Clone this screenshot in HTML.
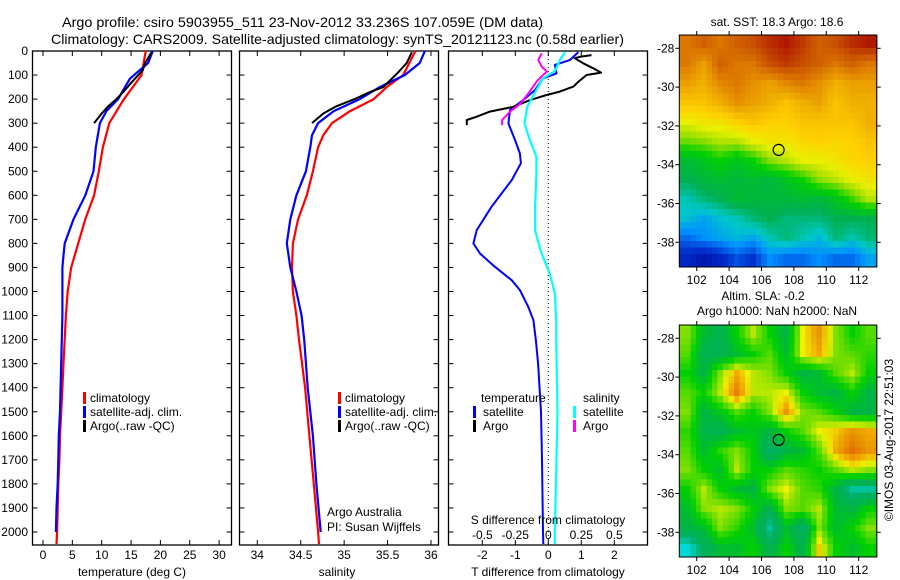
<!DOCTYPE html>
<html><head><meta charset="utf-8"><style>
html,body{margin:0;padding:0;background:#fff;width:900px;height:580px;overflow:hidden}
svg{display:block;font-family:"Liberation Sans",sans-serif}
text{font-size:12px;fill:#000}
</style></head><body>
<svg id="fig" width="900" height="580" viewBox="0 0 900 580" xmlns="http://www.w3.org/2000/svg">
<text x="62" y="27" textLength="481" lengthAdjust="spacingAndGlyphs" style="font-size:14px">Argo profile: csiro 5903955_511 23-Nov-2012 33.236S 107.059E (DM data)</text>
<text x="51" y="44" textLength="573" lengthAdjust="spacingAndGlyphs" style="font-size:14px">Climatology: CARS2009. Satellite-adjusted climatology: synTS_20121123.nc (0.58d earlier)</text>
<g id="layer"></g>
</svg>
<script>
// ---------- data ----------
const depthTicks = [0,100,200,300,400,500,600,700,800,900,1000,1100,1200,1300,1400,1500,1600,1700,1800,1900,2000];
const tempTicks = [0,5,10,15,20,25,30];
const salTicks = [34,34.5,35,35.5,36];
const tdiffTicks = [-2,-1,0,1,2];
const sdiffTicks = [-0.5,-0.25,0,0.25,0.5];
const sdiffLabels = ["-0.5","-0.25","0","0.25","0.5"];

const tClimDepth = [0,100,200,300,400,500,600,700,800,900,1000,1100,1200,1300,1400,1500,1600,1700,1800,1900,2000,2050];
const tClimVal = [17.5,16.8,13.8,11.3,10.2,9.5,8.7,7.2,6.0,4.8,4.2,3.9,3.7,3.5,3.3,3.1,2.9,2.8,2.6,2.5,2.4,2.3];
const tSatDepth = [0,50,115,200,250,300,400,500,600,700,800,850,900,1000,1100,1200,1300,1400,1500,1600,1700,1800,1900,2000];
const tSatVal = [18.7,17.9,14.8,12.8,10.8,9.7,9.0,8.6,7.2,5.2,3.7,3.5,3.3,3.3,3.3,3.2,3.1,3.0,2.9,2.7,2.6,2.5,2.3,2.2];
const tArgoDepth = [5,50,80,130,170,200,230,260,300];
const tArgoVal = [18.5,17.4,17.0,15.1,13.7,12.5,11.1,10.0,8.7];

const sClimDepth = [0,100,150,200,250,300,350,400,500,600,700,800,900,1000,1100,1200,1400,1600,1800,2000,2050];
const sClimVal = [35.82,35.68,35.49,35.34,35.07,34.86,34.76,34.70,34.64,34.57,34.47,34.41,34.40,34.41,34.45,34.48,34.55,34.60,34.65,34.70,34.71];
const sSatDepth = [0,50,100,150,200,250,300,350,400,500,600,700,800,900,1000,1100,1200,1400,1600,1800,2000];
const sSatVal = [35.93,35.87,35.70,35.41,35.18,34.88,34.70,34.63,34.61,34.56,34.45,34.38,34.34,34.38,34.45,34.51,34.54,34.58,34.64,34.68,34.73];
const sArgoDepth = [5,50,90,150,170,200,230,260,300];
const sArgoVal = [35.78,35.72,35.62,35.45,35.30,35.12,34.91,34.76,34.63];

const dTSatDepth = [5,37,58,93,114,162,204,245,301,370,426,467,537,648,745,800,842,897,953,994,1063,1119,1200,1300,1500,1700,2000,2050];
const dTSatVal = [0.91,0.66,0.2,0.25,-0.16,-0.4,-0.76,-1.16,-1.21,-1.01,-0.86,-0.83,-1.11,-1.72,-2.17,-2.27,-2.07,-1.62,-1.11,-0.86,-0.61,-0.45,-0.38,-0.31,-0.22,-0.19,-0.16,-0.15];
const dTArgoDepth = [17,24,30,51,72,90,100,128,148,169,183,204,232,252,273,287,308];
const dTArgoVal = [1.31,0.96,0.8,1.06,1.36,1.6,1.16,0.91,0.76,0.35,-0.05,-0.55,-1.06,-1.77,-2.17,-2.47,-2.47];
const dSSatDepth = [5,37,83,114,162,232,301,370,440,509,648,745,828,925,1008,1119,1200,1500,2000,2050];
const dSSatVal = [0.127,0.089,0.05,-0.04,-0.09,-0.16,-0.18,-0.14,-0.09,-0.09,-0.1,-0.1,-0.06,0.01,0.05,0.06,0.06,0.07,0.05,0.05];
const dSArgoDepth = [10,37,65,86,100,128,176,218,252,287,308];
const dSArgoVal = [-0.05,-0.076,-0.05,-0.01,-0.04,-0.09,-0.15,-0.21,-0.29,-0.35,-0.35];

const mapLons = [102,104,106,108,110,112];
const mapLats = [-28,-30,-32,-34,-36,-38];
const sstGrid = [
[20.5,20.8,20.5,20.8,21,21.3,21.5,21.2,20.8,21,21.3,21.5],
[20.5,20,20.8,20.5,20.5,21,21.2,21,20.8,20.5,20.8,20.5],
[20,19.8,20.3,20.5,20.2,20,20.3,20.5,20.2,19.8,20,20],
[19.5,19.5,19.8,20.2,20,19.8,19.5,19.8,20,19.5,19.8,19.8],
[18.8,19,19,19.3,19.5,19.3,19.3,19.5,19.5,19.5,19.5,19.8],
[18.2,18.3,18.5,18.5,18.8,19,19,19.2,19.3,19.2,19.3,19.5],
[17.3,17.5,17.8,17.5,17.8,18.3,18.5,18.8,18.8,19,19.2,19.3],
[17,17.2,17.3,17.2,17.3,17.2,17.5,17.8,18.3,18.5,18.8,19],
[16.5,16.8,17,17.3,17.2,17.2,17.2,17.3,17.2,17.5,18,18.5],
[16.3,16,16.3,16.5,16.8,17,16.8,16.8,16.8,17,17,17],
[15.5,15.8,16,16.2,16,16.5,16.8,16.5,16.2,16.8,16.5,16.8],
[14.8,14.5,14.8,15.3,15,15.8,15.5,15.5,15.8,15.5,15.5,16]];
const slaGrid = [
[0.3,-0.2,-0.4,0,0.4,0,-0.3,0.5,0.8,0.3,0,0.2],
[0.2,-0.4,-0.4,-0.2,0,0.2,-0.2,0.5,0.7,0.3,0.2,0.1],
[0,-0.3,0.3,0.7,0.4,0.3,0,-0.3,-0.2,0.2,0.4,0],
[0.2,0,0.4,0.9,0.4,0.4,0.5,0,-0.2,-0.3,0,-0.3],
[0.3,-0.3,-0.1,0.2,0,0.3,0.8,0.3,0.2,0,-0.3,-0.3],
[0.1,-0.3,-0.4,-0.2,-0.1,-0.3,0,0.2,0.5,0.6,0.8,0.7],
[0.2,-0.2,0.1,0.3,0,-0.6,-0.3,-0.2,0.2,0.7,1,0.8],
[0.3,0,-0.2,0.4,0,0,0.2,0.1,0,0.2,0.4,0.3],
[0,0.4,0,-0.2,-0.3,0.3,0.5,0.2,0.1,-0.3,-0.8,-0.8],
[-0.2,0.3,0.4,0.3,0,-0.4,0.3,0.2,0.4,-0.2,-0.3,0],
[-0.3,-0.2,0.3,0.1,-0.2,-0.8,-0.2,-0.6,0.3,-0.2,0,0.3],
[-1,-0.5,-0.2,-0.2,0,-0.4,0,-0.4,0.6,0,-0.2,0]];
const argoLon = 107.059, argoLat = -33.236;

// ---------- helpers ----------
const NS="http://www.w3.org/2000/svg";
const layer=document.getElementById('layer');
function mk(tag,attrs,parent){const e=document.createElementNS(NS,tag);for(const k in attrs)e.setAttribute(k,attrs[k]);(parent||layer).appendChild(e);return e;}
const Y0=51, YS=0.2405, PB=545, PT=51;
const yD=d=>Y0+d*YS;
const xT=t=>43+t*5.87;
const xS=s=>257.3+(s-34)*86.85;
const xDT=v=>548.3+v*33;
const xDS=v=>548.3+v*132;

function panelFrame(name,x0,x1){
  const r=mk('rect',{x:x0,y:PT,width:x1-x0,height:PB-PT,fill:'none',stroke:'#000','stroke-width':1.3});
  
  
  depthTicks.forEach(d=>{
    const y=yD(d);
    const t1=mk('line',{x1:x0,x2:x0+5,y1:y,y2:y,stroke:'#000'});
    
    
    const t2=mk('line',{x1:x1-5,x2:x1,y1:y,y2:y,stroke:'#000'});
    
    
  });
}
function xTicks(vals,fx,labels,ly,name,topTicks){
  vals.forEach((v,i)=>{
    const x=fx(v);
    const b=mk('line',{x1:x,x2:x,y1:PB-5,y2:PB,stroke:'#000'});
    
    
    if(topTicks){const t=mk('line',{x1:x,x2:x,y1:PT,y2:PT+5,stroke:'#000'});
      
      }
    if(labels){const tx=mk('text',{x:x,y:ly,'text-anchor':'middle'});tx.textContent=labels[i];
      
      }
  });
}
function series(name,depths,vals,fx,color,w){
  const pts=depths.map((d,i)=>fx(vals[i]).toFixed(1)+','+yD(d).toFixed(1)).join(' ');
  const p=mk('polyline',{points:pts,fill:'none',stroke:color,'stroke-width':w,'stroke-linejoin':'round'});
  
  
}
function txt(name,x,y,s,anchor,extra){
  const t=mk('text',Object.assign({x:x,y:y,'text-anchor':anchor||'start'},extra||{}));t.textContent=s;
  
  
  return t;
}
function legendBar(name,x,y,color){
  const r=mk('rect',{x:x,y:y-10,width:3,height:12,fill:color});
  
  
}

// ---------- panel 1: temperature ----------
panelFrame('temperature-panel',32.5,231.5);
xTicks(tempTicks,xT,tempTicks.map(String),559,'temperature',true);
depthTicks.forEach(d=>{txt('depth-tick-label',28,yD(d)+4,String(d),'end');});
series('temp-climatology-line',tClimDepth,tClimVal,xT,'#f00',2.2);
series('temp-satellite-line',tSatDepth,tSatVal,xT,'#00f',2.2);
series('temp-argo-line',tArgoDepth,tArgoVal,xT,'#000',2);
txt('temperature-axis-title',132,576,'temperature (deg C)','middle');
legendBar('legend-swatch-climatology',83,402,'#f00');txt('legend-climatology',90,402,'climatology');
legendBar('legend-swatch-satellite',83,416,'#00f');txt('legend-satellite',90,416,'satellite-adj. clim.');
legendBar('legend-swatch-argo',83,430,'#000');txt('legend-argo',90,430,'Argo(..raw -QC)');

// ---------- panel 2: salinity ----------
panelFrame('salinity-panel',239.5,438.5);
xTicks(salTicks,xS,salTicks.map(String),559,'salinity',true);
series('sal-climatology-line',sClimDepth,sClimVal,xS,'#f00',2.2);
series('sal-satellite-line',sSatDepth,sSatVal,xS,'#00f',2.2);
series('sal-argo-line',sArgoDepth,sArgoVal,xS,'#000',2);
txt('salinity-axis-title',337,576,'salinity','middle');
legendBar('legend-swatch-climatology-2',338,402,'#f00');txt('legend-climatology-2',345,402,'climatology');
legendBar('legend-swatch-satellite-2',338,416,'#00f');txt('legend-satellite-2',345,416,'satellite-adj. clim.');
legendBar('legend-swatch-argo-2',338,430,'#000');txt('legend-argo-2',345,430,'Argo(..raw -QC)');
txt('credit-argo-australia',327,516,'Argo Australia');
txt('credit-pi',327,531,'PI: Susan Wijffels');

// ---------- panel 3: differences ----------
panelFrame('difference-panel',448.5,647.5);
xTicks(tdiffTicks,xDT,tdiffTicks.map(String),559,'tdiff',true);
const zl=mk('line',{x1:xDT(0),x2:xDT(0),y1:PT,y2:PB,stroke:'#000','stroke-dasharray':'1,3'});


series('dT-satellite-line',dTSatDepth,dTSatVal,xDT,'#00f',2);
series('dT-argo-line',dTArgoDepth,dTArgoVal,xDT,'#000',2);
series('dS-satellite-line',dSSatDepth,dSSatVal,xDS,'#0ff',2.2);
series('dS-argo-line',dSArgoDepth,dSArgoVal,xDS,'#f0f',2);
txt('tdiff-axis-title',548,576,'T difference from climatology','middle');
txt('sdiff-axis-title',548,524,'S difference from climatology','middle');
sdiffTicks.forEach((v,i)=>txt('sdiff-tick-label',xDS(v),539,sdiffLabels[i],'middle'));
txt('legend-temperature-header',481,402,'temperature');
legendBar('legend-swatch-dT-sat',473,416,'#00f');txt('legend-dT-sat',483,416,'satellite');
legendBar('legend-swatch-dT-argo',473,430,'#000');txt('legend-dT-argo',483,430,'Argo');
txt('legend-salinity-header',583,402,'salinity');
legendBar('legend-swatch-dS-sat',573,416,'#0ff');txt('legend-dS-sat',583,416,'satellite');
legendBar('legend-swatch-dS-argo',573,430,'#f0f');txt('legend-dS-argo',583,430,'Argo');

// ---------- maps ----------
function rgb(c){return 'rgb('+c.map(Math.round).join(',')+')';}
function lerpColor(stops,v){
  if(v<=stops[0][0])return rgb(stops[0][1]);
  for(let i=1;i<stops.length;i++){if(v<=stops[i][0]){const a=stops[i-1],b=stops[i],f=(v-a[0])/(b[0]-a[0]);
    return rgb([0,1,2].map(k=>a[1][k]+(b[1][k]-a[1][k])*f));}}
  return rgb(stops[stops.length-1][1]);
}
function sample(grid,r,c){
  const nr=grid.length,nc=grid[0].length;
  r=Math.max(0,Math.min(nr-1,r));c=Math.max(0,Math.min(nc-1,c));
  const r0=Math.floor(r),c0=Math.floor(c),r1=Math.min(nr-1,r0+1),c1=Math.min(nc-1,c0+1),fr=r-r0,fc=c-c0;
  return grid[r0][c0]*(1-fr)*(1-fc)+grid[r0][c1]*(1-fr)*fc+grid[r1][c0]*fr*(1-fc)+grid[r1][c1]*fr*fc;
}
const sstStops=[[14,[0,0,143]],[15,[0,48,208]],[15.8,[0,144,255]],[16.4,[0,200,200]],[17,[0,176,80]],[17.8,[0,208,0]],[18.4,[160,224,0]],[18.8,[232,240,0]],[19.3,[255,208,0]],[19.8,[240,176,0]],[20.4,[224,128,0]],[21,[200,80,0]],[21.5,[176,24,0]]];
const slaStops=[[-1,[0,216,216]],[-0.6,[0,176,100]],[-0.3,[0,180,70]],[0,[0,208,0]],[0.3,[128,224,0]],[0.5,[240,240,0]],[0.7,[240,170,0]],[1,[224,112,0]]];
function drawMap(name,grid,stops,top,gridName){
  const L=679.3,R=876.7,B=top+232,W=R-L;
  const mlon=lon=>696.7+(lon-102)*16.2;
  const mlat=lat=>top+13.3+(-28-lat)*19.4;
  const g=mk('g',{'shape-rendering':'crispEdges'});
  
  
  const nr=grid.length,nc=grid[0].length,up=3,NR=nr*up,NC=nc*up,cw=W/NC,ch=232/NR;
  for(let i=0;i<NR;i++)for(let j=0;j<NC;j++){
    const v=sample(grid,(i+0.5)/up-0.5,(j+0.5)/up-0.5);
    const c=mk('rect',{x:(L+j*cw).toFixed(2),y:(top+i*ch).toFixed(2),width:(cw+0.6).toFixed(2),height:(ch+0.6).toFixed(2),fill:lerpColor(stops,v)},g);
    
    
  }
  const fr=mk('rect',{x:L,y:top,width:W,height:232,fill:'none',stroke:'#000'});
  
  
  mapLons.forEach(lon=>{const x=mlon(lon);
    const a=mk('line',{x1:x,x2:x,y1:top,y2:top-4,stroke:'#000'});
    const b=mk('line',{x1:x,x2:x,y1:B,y2:B+4,stroke:'#000'});
    txt('lon-tick-label',x,B+17,String(lon),'middle');});
  mapLats.forEach(lat=>{const y=mlat(lat);
    const a=mk('line',{x1:L-4,x2:L,y1:y,y2:y,stroke:'#000'});
    const b=mk('line',{x1:R,x2:R+4,y1:y,y2:y,stroke:'#000'});
    txt('lat-tick-label',L-5,y+4,String(lat),'end');});
  const m=mk('circle',{cx:mlon(argoLon),cy:mlat(argoLat),r:5.5,fill:'none',stroke:'#000','stroke-width':1.2});
  
  
}
drawMap('sst-map',sstGrid,sstStops,35,'sst');
drawMap('sla-map',slaGrid,slaStops,325,'sla');
txt('sst-map-title',777,26,'sat. SST: 18.3 Argo: 18.6','middle');
txt('sla-map-title-1',763,300,'Altim. SLA: -0.2','middle');
txt('sla-map-title-2',777,315,'Argo h1000: NaN h2000: NaN','middle');
txt('imos-timestamp',0,0,'©IMOS 03-Aug-2017 22:51:03','middle',{transform:'translate(893,440) rotate(-90)'});
</script>
</body></html>
